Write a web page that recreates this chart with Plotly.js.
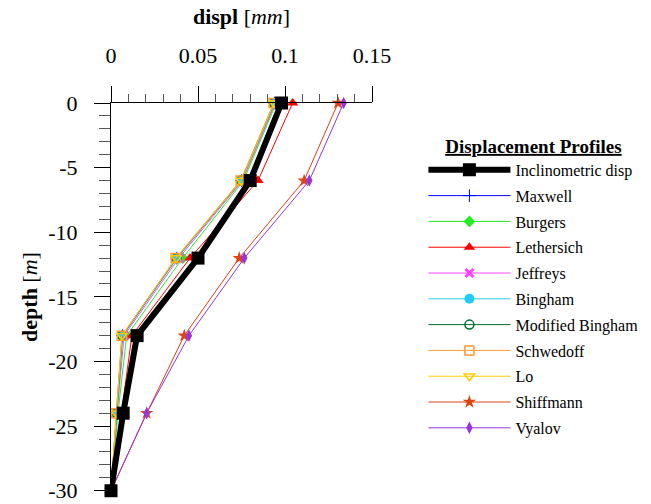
<!DOCTYPE html>
<html>
<head>
<meta charset="utf-8">
<script src="https://cdn.plot.ly/plotly-3.0.1.min.js"></script>
<style>html,body{margin:0;padding:0;background:#fff;}#chart{width:651px;height:504px;}</style>
</head>
<body>
<div id="chart"></div>
<script>
// depth [m]
const depth = [0, -6, -12, -18, -24, -30];
// displacements [mm]
const inclinometric = [0.098, 0.080, 0.050, 0.015, 0.007, 0];
const maxwell       = [0.0940, 0.0750, 0.0378, 0.0066, 0.0033, 0];
const burgers       = [0.0950, 0.0762, 0.0412, 0.0090, 0.0040, 0];
const lethersich    = [0.1044, 0.0845, 0.0454, 0.0120, 0.0060, 0];
const jeffreys      = [0.0945, 0.0755, 0.0390, 0.0075, 0.0035, 0];
const bingham       = [0.0940, 0.0750, 0.0380, 0.0067, 0.0033, 0];
const modBingham    = [0.0937, 0.0748, 0.0376, 0.0064, 0.0032, 0];
const schwedoff     = [0.0935, 0.0745, 0.0372, 0.0062, 0.0030, 0];
const lo            = [0.0938, 0.0749, 0.0375, 0.0063, 0.0031, 0];
const shiffmann     = [0.1305, 0.1110, 0.0737, 0.0421, 0.0205, 0];
const vyalov        = [0.1337, 0.1140, 0.0766, 0.0448, 0.0205, 0];

const names = ['Inclinometric disp','Maxwell','Burgers','Lethersich','Jeffreys','Bingham','Modified Bingham','Schwedoff','Lo','Shiffmann','Vyalov'];
const xTickVals = [0, 0.05, 0.1, 0.15];
const xTickText = ['0', '0.05', '0.1', '0.15'];
const yTickVals = [0, -5, -10, -15, -20, -25, -30];
const yTickText = ['0', '-5', '-10', '-15', '-20', '-25', '-30'];

function tr(name, x, color, symbol, size, width, lw, rank) {
  return {
    type: 'scatter', mode: 'lines+markers', name: name, x: x, y: depth,
    line: {color: color, width: width},
    marker: {symbol: symbol, size: size, color: color, line: {color: color, width: lw}},
    cliponaxis: false, legendrank: rank, legendgroup: 'g' + rank
  };
}

const traces = [
  tr(names[1], maxwell, '#0000ff', 'cross-thin', 9, 1, 1, 2),
  tr(names[2], burgers, '#22ee22', 'diamond', 9, 1, 0, 3),
  tr(names[3], lethersich, '#ff0000', 'triangle-up', 10, 1, 0, 4),
  tr(names[4], jeffreys, '#ff44ff', 'x-thin', 8, 1, 3, 5),
  tr(names[5], bingham, '#22ccff', 'circle', 10, 1, 0, 6),
  tr(names[6], modBingham, '#006d2c', 'circle-open', 9, 1, 1.5, 7),
  tr(names[7], schwedoff, '#ff9933', 'square-open', 9, 1, 1.5, 8),
  tr(names[8], lo, '#ffcc00', 'triangle-down-open', 9, 1, 1.5, 9),
  tr(names[9], shiffmann, '#dd4411', 'star', 10, 1, 0, 10),
  tr(names[10], vyalov, '#9933dd', 'diamond-tall', 9, 1, 0, 11),
  tr(names[0], inclinometric, '#000000', 'square', 13, 6, 0, 1)
];

const layout = {
  width: 651, height: 504,
  margin: {l: 111, r: 279, t: 103, b: 13, autoexpand: false},
  paper_bgcolor: '#ffffff', plot_bgcolor: '#ffffff',
  font: {family: '"Liberation Serif", "Times New Roman", serif', color: '#000', size: 22},
  showlegend: true,
  legend: {
    x: 1.197, xanchor: 'left', y: 0.935, yanchor: 'top',
    bgcolor: 'rgba(0,0,0,0)', borderwidth: 0,
    itemwidth: 82,
    font: {size: 16, family: '"Liberation Serif", serif'},
    title: {text: '<b><u>Displacement Profiles</u></b>', side: 'top center', font: {size: 19}},
    traceorder: 'grouped', tracegroupgap: 2
  },
  xaxis: {
    side: 'top', range: [0, 0.15], autorange: false,
    tickmode: 'array', tickvals: xTickVals, ticktext: xTickText,
    ticks: 'outside', ticklen: 16, tickwidth: 1, tickcolor: '#000',
    minor: {dtick: 0.01, ticks: 'outside', ticklen: 8, tickcolor: '#555', tickwidth: 1},
    showline: true, linecolor: '#000', linewidth: 1,
    showgrid: false, zeroline: false,
    ticklabelstandoff: 14, ticklabeloverflow: 'allow',
    tickfont: {size: 22},
    title: {text: '<b>displ</b> [<i>mm</i>]', font: {size: 22}, standoff: 12}
  },
  yaxis: {
    range: [-30.02, 0], autorange: false,
    tickmode: 'array', tickvals: yTickVals, ticktext: yTickText,
    ticks: 'outside', ticklen: 16, tickwidth: 1, tickcolor: '#000',
    minor: {dtick: 1, ticks: 'outside', ticklen: 11, tickcolor: '#555', tickwidth: 1},
    showline: true, linecolor: '#000', linewidth: 1,
    showgrid: false, zeroline: false,
    ticklabelstandoff: 12, ticklabeloverflow: 'allow',
    tickfont: {size: 22},
    title: {text: '<b>depth</b> [<i>m</i>]', font: {size: 22}, standoff: 4}
  }
};

Plotly.newPlot('chart', traces, layout, {displayModeBar: false, staticPlot: true});
</script>
</body>
</html>
